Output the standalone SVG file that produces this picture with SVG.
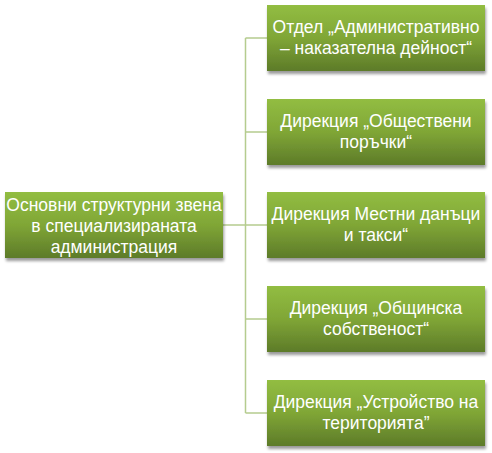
<svg xmlns="http://www.w3.org/2000/svg" width="492" height="453" viewBox="0 0 492 453">
<defs>
<linearGradient id="g" x1="0" y1="0" x2="0" y2="1">
<stop offset="0" stop-color="#92bd42"/>
<stop offset="0.5" stop-color="#80a636"/>
<stop offset="1" stop-color="#5d7b29"/>
</linearGradient>
<filter id="sh" x="-10%" y="-10%" width="125%" height="135%">
<feGaussianBlur in="SourceAlpha" stdDeviation="1.5"/>
<feOffset dx="1" dy="3" result="b"/>
<feComponentTransfer><feFuncA type="linear" slope="0.4"/></feComponentTransfer>
<feMerge><feMergeNode/><feMergeNode in="SourceGraphic"/></feMerge>
</filter>
</defs>
<style>
.box{fill:url(#g);filter:url(#sh)}
.t{font-family:"Liberation Sans",Arial,sans-serif;font-size:17.5px;fill:#ffffff;text-anchor:middle}
.c{stroke:#b5cc8e;stroke-width:1.5;fill:none}
</style>
<rect width="492" height="453" fill="#ffffff"/>
<g id="connectors">
<path class="c" d="M223 225H245.5M245.5 38V413M245.5 38H267M245.5 132H267M245.5 225H267M245.5 319H267M245.5 413H267"/>
</g>
<g id="root">
<rect class="box" x="5" y="192" width="218" height="66"/>
<text class="t" x="114" y="211">Основни структурни звена</text>
<text class="t" x="114" y="232">в специализираната</text>
<text class="t" x="114" y="253">администрация</text>
</g>
<g id="n1">
<rect class="box" x="267" y="5" width="218" height="66"/>
<text class="t" x="376" y="33">Отдел „Административно</text>
<text class="t" x="376" y="54">– наказателна дейност“</text>
</g>
<g id="n2">
<rect class="box" x="267" y="99" width="218" height="66"/>
<text class="t" x="376" y="127">Дирекция „Обществени</text>
<text class="t" x="376" y="148">поръчки“</text>
</g>
<g id="n3">
<rect class="box" x="267" y="192" width="218" height="66"/>
<text class="t" x="376" y="220">Дирекция Местни данъци</text>
<text class="t" x="376" y="241">и такси“</text>
</g>
<g id="n4">
<rect class="box" x="267" y="286" width="218" height="66"/>
<text class="t" x="376" y="314">Дирекция „Общинска</text>
<text class="t" x="376" y="335">собственост“</text>
</g>
<g id="n5">
<rect class="box" x="267" y="380" width="218" height="66"/>
<text class="t" x="376" y="408">Дирекция „Устройство на</text>
<text class="t" x="376" y="429">територията”</text>
</g>
</svg>
